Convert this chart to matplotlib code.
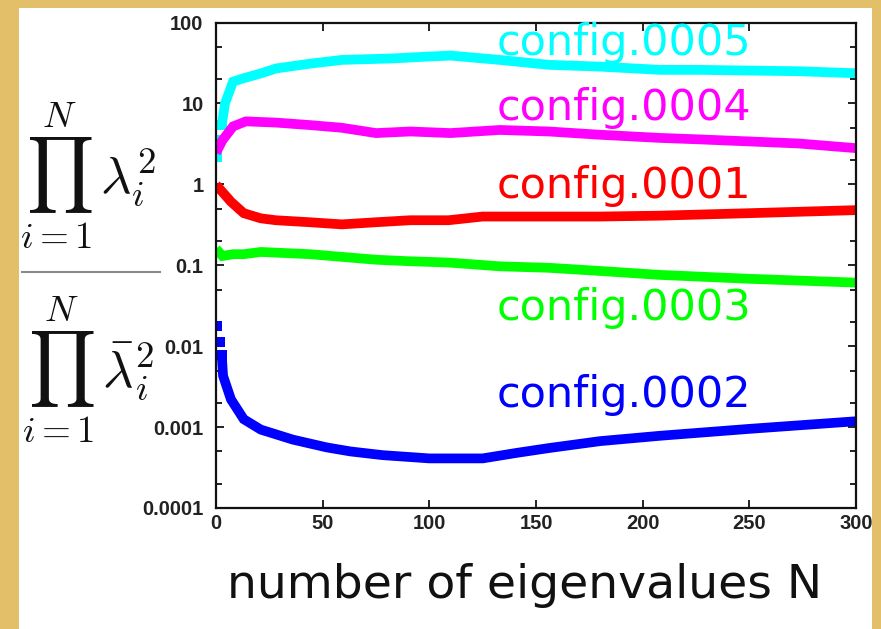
import matplotlib
matplotlib.use("Agg")
import matplotlib.pyplot as plt
from matplotlib.lines import Line2D
from matplotlib.patches import Rectangle
from matplotlib.ticker import FixedLocator, FixedFormatter, LogLocator, NullFormatter

# ── Data ──────────────────────────────────────────────────────────────────────
n_0005 = [0.3, 1.9, 2.7, 4.2, 8, 13, 21, 28, 44, 59, 83, 100, 110, 125, 133, 156, 180, 208, 226, 273, 300]
v_0005 = [2.2, 3.5, 5.4, 10, 18.6, 20.5, 23.5, 27, 31, 34.5, 36, 38, 39, 36, 34.5, 30, 28.5, 26, 26, 25, 23.6]

n_0004 = [0, 3, 8, 14, 28, 44, 59, 75, 91, 110, 133, 156, 180, 208, 226, 273, 300]
v_0004 = [2.45, 3.5, 5.2, 6.0, 5.8, 5.4, 5.0, 4.3, 4.5, 4.3, 4.7, 4.5, 4.1, 3.75, 3.6, 3.2, 2.8]

n_0001 = [0, 7, 13, 21, 28, 44, 59, 75, 91, 109, 125, 156, 180, 208, 250, 300]
v_0001 = [0.99, 0.61, 0.44, 0.38, 0.36, 0.34, 0.32, 0.34, 0.36, 0.36, 0.40, 0.40, 0.40, 0.41, 0.44, 0.48]

n_0003 = [0, 3, 8, 13, 21, 44, 75, 91, 109, 133, 156, 180, 208, 250, 300]
v_0003 = [0.16, 0.13, 0.137, 0.137, 0.146, 0.137, 0.117, 0.112, 0.108, 0.097, 0.093, 0.085, 0.076, 0.068, 0.061]

n_0002 = [0.3, 1.9, 2.7, 3.3, 7, 13, 21, 36, 52, 63, 78, 100, 125, 141, 156, 180, 208, 250, 300]
v_0002 = [0.018, 0.0114, 0.0077, 0.0043, 0.0022, 0.00125, 0.00093, 0.0007, 0.00056, 0.0005,
          0.00045, 0.00041, 0.00041, 0.00048, 0.00055, 0.00067, 0.00078, 0.00095, 0.00118]

series_names = ["config.0005", "config.0004", "config.0001", "config.0003", "config.0002"]
x_ticks = [0, 50, 100, 150, 200, 250, 300]
y_ticks = [1e-4, 1e-3, 1e-2, 1e-1, 1, 10, 100]
y_tick_labels = ["0.0001", "0.001", "0.01", "0.1", "1", "10", "100"]

# ── Style ─────────────────────────────────────────────────────────────────────
plt.rcParams["mathtext.fontset"] = "cm"
GOLD = "#E2BF68"

series = [
    (n_0005, v_0005, "#00FFFF", 3, 39.7),
    (n_0004, v_0004, "#FF00FF", 0, 6.25),
    (n_0001, v_0001, "#FF0000", 0, 0.68),
    (n_0003, v_0003, "#00FF00", 0, 0.0212),
    (n_0002, v_0002, "#0000FF", 3, 0.00179),
]

fig = plt.figure(figsize=(8.81, 6.29), dpi=100, facecolor=GOLD)
fig.patches.append(Rectangle((0.0216, 0.0), 0.968, 0.988, transform=fig.transFigure,
                             facecolor="white", edgecolor="none", zorder=-10))

ax = fig.add_axes([0.2452, 0.1924, 0.7264, 0.7718])
ax.set_facecolor("white")

for (n, v, col, head, ylab), name in zip(series, series_names):
    # first few points are isolated squares, the rest a dense band
    ax.plot(n[:head], v[:head], "s", color=col, markersize=7, markeredgewidth=0)
    ax.plot(n[max(head - 1, 0):], v[max(head - 1, 0):], "-", color=col, linewidth=7,
            solid_capstyle="butt", solid_joinstyle="miter")
    ax.text(131.5, ylab, name, color=col, fontsize=31, family="DejaVu Sans",
            ha="left", va="baseline", zorder=5)

ax.set_yscale("log")
ax.set_xlim(0, 300)
ax.set_ylim(1e-4, 100)

ax.xaxis.set_major_locator(FixedLocator(x_ticks))
ax.yaxis.set_major_locator(FixedLocator(y_ticks))
ax.yaxis.set_major_formatter(FixedFormatter(y_tick_labels))
ax.yaxis.set_minor_locator(LogLocator(base=10, subs=(2, 5)))
ax.yaxis.set_minor_formatter(NullFormatter())

ax.tick_params(which="both", direction="in", top=True, right=True, width=1.3, color="#111")
ax.tick_params(which="major", length=6)
ax.tick_params(which="minor", length=4)
ax.tick_params(axis="y", pad=9)
ax.tick_params(axis="x", pad=4)
for lab in ax.get_xticklabels() + ax.get_yticklabels():
    lab.set_fontsize(14.5)
    lab.set_fontweight("bold")
    lab.set_family("Liberation Sans")
    lab.set_color("#222")
for sp in ax.spines.values():
    sp.set_linewidth(1.6)
    sp.set_color("#111")

# x label
fig.text(0.595, 0.049, "number of eigenvalues N", fontsize=34, family="DejaVu Sans",
         ha="center", va="baseline", color="#111")

# y label: ratio of eigenvalue products
fig.text(0.1, 1 - 176 / 629, r"$\prod_{i=1}^{N}\,\lambda_i^2$", fontsize=38,
         ha="center", va="center", color="#111")
fig.text(0.1, 1 - 370 / 629, r"$\prod_{i=1}^{N}\,\bar{\lambda}_i^2$", fontsize=38,
         ha="center", va="center", color="#111")
fig.lines.append(Line2D([22 / 881, 160 / 881], [1 - 272 / 629, 1 - 272 / 629],
                        transform=fig.transFigure, color="#888", linewidth=1.5))

fig.savefig("out.png", dpi=100, facecolor=GOLD)
